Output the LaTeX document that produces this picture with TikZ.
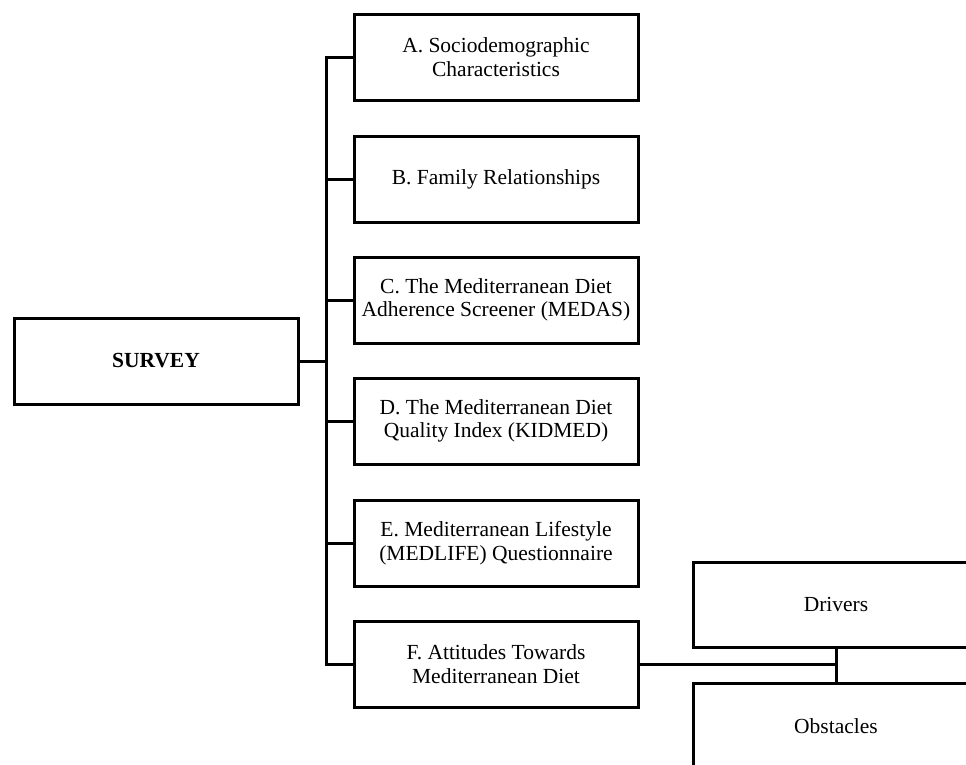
\documentclass[tikz,border=0pt]{standalone}
\usepackage{fontspec}
\setmainfont{Liberation Serif}
\begin{document}
\begin{tikzpicture}[x=1pt,y=-1pt,
  box/.style={draw=black,line width=3pt,fill=white,minimum width=284pt,minimum height=86pt,
    align=center,inner sep=0pt,font=\fontsize{21.5}{23.5}\selectfont},
  link/.style={draw=black,line width=3pt}]
\useasboundingbox (0,0) rectangle (966,764);
\clip (0,0) rectangle (966,764);
\fill[white] (0,0) rectangle (966,764);
\node[box] (survey) at (156,361) {\textbf{SURVEY}};
\node[box] (a) at (496,57) {A. Sociodemographic\\Characteristics};
\node[box] (b) at (496,179) {B. Family Relationships};
\node[box] (c) at (496,300) {C. The Mediterranean Diet\\Adherence Screener (MEDAS)};
\node[box] (d) at (496,421) {D. The Mediterranean Diet\\Quality Index (KIDMED)};
\node[box] (e) at (496,543) {E. Mediterranean Lifestyle\\(MEDLIFE) Questionnaire};
\node[box] (f) at (496,664) {F. Attitudes Towards\\Mediterranean Diet};
\node[box,minimum width=286pt,minimum height=85pt] (drv) at (836,604.5) {Drivers};
\node[box,minimum width=286pt] (obs) at (836,726) {Obstacles};
\coordinate (bus) at (326,361);
\coordinate (fork) at (836,664);
\draw[link] (survey.east) -- (bus);
\draw[link,line cap=rect] (a.west) -| (bus);
\draw[link,line cap=rect] (f.west) -| (bus);
\draw[link] (b.west) -- (b.west -| bus);
\draw[link] (c.west) -- (c.west -| bus);
\draw[link] (d.west) -- (d.west -| bus);
\draw[link] (e.west) -- (e.west -| bus);
\draw[link] (f.east) -- (fork);
\draw[link] (drv.south) -- (obs.north);
\end{tikzpicture}
\end{document}
